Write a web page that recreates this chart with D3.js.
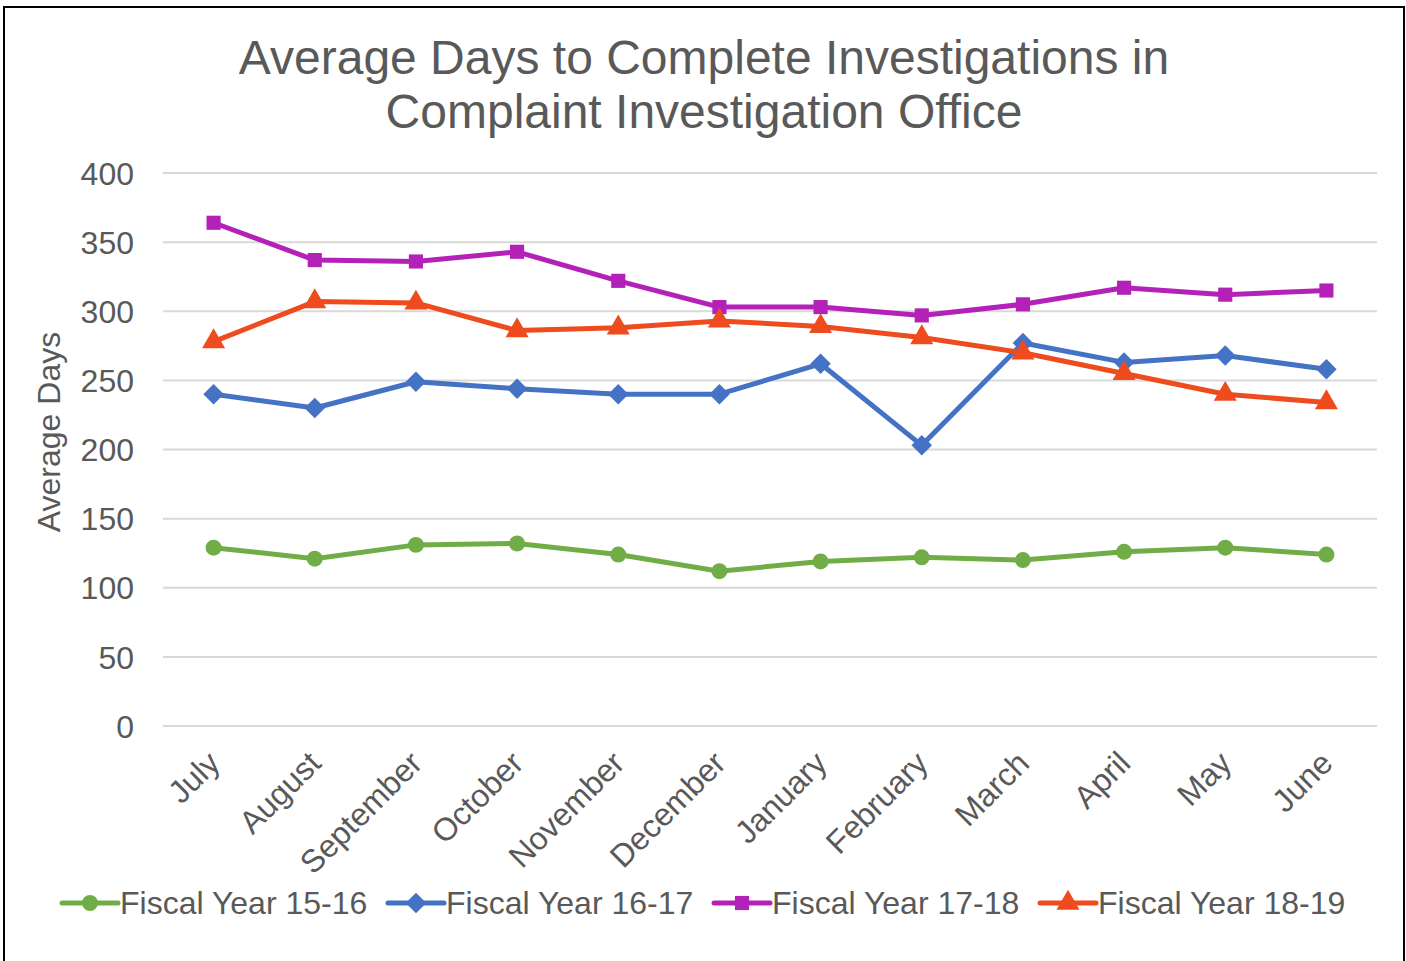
<!DOCTYPE html>
<html lang="en">
<head>
    <meta charset="UTF-8">
    <title>Average Days to Complete Investigations</title>
    <script src="https://cdn.jsdelivr.net/npm/d3@7"></script>
    <style>
        body { margin: 0; background: #fff; }
        text { font-family: "Liberation Sans", Arial, sans-serif; fill: #595959; }
        .grid line { stroke: #d9d9d9; stroke-width: 2px; }
    </style>
</head>
<body>
<script>
    // data
    const months = ["July", "August", "September", "October", "November", "December",
        "January", "February", "March", "April", "May", "June"]
    const fy1516 = [129, 121, 131, 132, 124, 112, 119, 122, 120, 126, 129, 124]
    const fy1617 = [240, 230, 249, 244, 240, 240, 262, 203, 277, 263, 268, 258]
    const fy1718 = [364, 337, 336, 343, 322, 303, 303, 297, 305, 317, 312, 315]
    const fy1819 = [278, 307, 306, 286, 288, 293, 289, 281, 270, 255, 240, 234]
    const seriesNames = ["Fiscal Year 15-16", "Fiscal Year 16-17", "Fiscal Year 17-18", "Fiscal Year 18-19"]
    const yTicks = [0, 50, 100, 150, 200, 250, 300, 350, 400]

    // diamonds are squares turned by 45 degrees (rot)
    const series = [
        {name: seriesNames[0], values: fy1516, color: "#70ad47", symbol: d3.symbolCircle, size: 200, rot: 0},
        {name: seriesNames[1], values: fy1617, color: "#4472c4", symbol: d3.symbolSquare, size: 210, rot: 45},
        {name: seriesNames[2], values: fy1718, color: "#b421b9", symbol: d3.symbolSquare, size: 200, rot: 0},
        {name: seriesNames[3], values: fy1819, color: "#ee4b1f", symbol: d3.symbolTriangle, size: 230, rot: 0}
    ]

    const W = 1406, H = 961
    const plot = {left: 163, right: 1377, top: 173, bottom: 726}

    const svg = d3.select("body").append("svg").attr("width", W).attr("height", H)

    // outer frame
    svg.append("rect").attr("x", 4).attr("y", 7).attr("width", 1400).attr("height", 960)
        .attr("fill", "#fff").attr("stroke", "#000").attr("stroke-width", 2)

    // title
    const title = svg.append("text").attr("text-anchor", "middle").style("font-size", "48px")
    title.append("tspan").attr("x", 704).attr("y", 74).text("Average Days to Complete Investigations in")
    title.append("tspan").attr("x", 704).attr("y", 128).text("Complaint Investigation Office")

    const x = d3.scaleBand().domain(months).range([plot.left, plot.right])
    const y = d3.scaleLinear().domain([0, 400]).range([plot.bottom, plot.top])

    // grid lines
    svg.append("g").attr("class", "grid")
        .selectAll("line").data(yTicks).join("line")
        .attr("x1", plot.left).attr("x2", plot.right)
        .attr("y1", d => y(d)).attr("y2", d => y(d))

    // y axis
    const yAxis = svg.append("g").attr("transform", `translate(${plot.left},0)`)
        .call(d3.axisLeft(y).tickValues(yTicks).tickSize(0).tickPadding(29))
    yAxis.select(".domain").remove()
    yAxis.selectAll("text").style("font-size", "32px").attr("fill", "#595959").attr("dy", "0.35em")

    // x axis
    const xAxis = svg.append("g").attr("transform", `translate(0,${plot.bottom})`)
        .call(d3.axisBottom(x).tickSize(0))
    xAxis.select(".domain").remove()
    xAxis.selectAll("text")
        .style("font-size", "32px").attr("fill", "#595959")
        .attr("text-anchor", "end")
        .attr("dy", "0")
        .attr("transform", "translate(6,37) rotate(-45)")

    // y axis title
    svg.append("text").attr("text-anchor", "middle").style("font-size", "32px")
        .attr("transform", "translate(60,432) rotate(-90)").text("Average Days")

    const cx = i => x(months[i]) + x.bandwidth() / 2
    const line = d3.line().x((d, i) => cx(i)).y(d => y(d))

    series.forEach(s => {
        svg.append("path").datum(s.values).attr("d", line)
            .attr("fill", "none").attr("stroke", s.color).attr("stroke-width", 5)
            .attr("stroke-linejoin", "round").attr("stroke-linecap", "round")
        svg.append("g").selectAll("path").data(s.values).join("path")
            .attr("d", d3.symbol().type(s.symbol).size(s.size))
            .attr("transform", (d, i) => `translate(${cx(i)},${y(d)}) rotate(${s.rot})`)
            .attr("fill", s.color)
    })

    // legend
    const legendX = [62, 388, 714, 1040]
    const legend = svg.append("g").attr("transform", "translate(0,903)")
    series.forEach((s, i) => {
        const g = legend.append("g").attr("transform", `translate(${legendX[i]},0)`)
        g.append("line").attr("x1", 0).attr("x2", 56).attr("stroke", s.color)
            .attr("stroke-width", 5).attr("stroke-linecap", "round")
        g.append("path").attr("d", d3.symbol().type(s.symbol).size(s.size))
            .attr("transform", `translate(28,0) rotate(${s.rot})`).attr("fill", s.color)
        g.append("text").attr("x", 58).attr("dy", "0.35em").style("font-size", "32px").text(s.name)
    })
</script>
</body>
</html>
